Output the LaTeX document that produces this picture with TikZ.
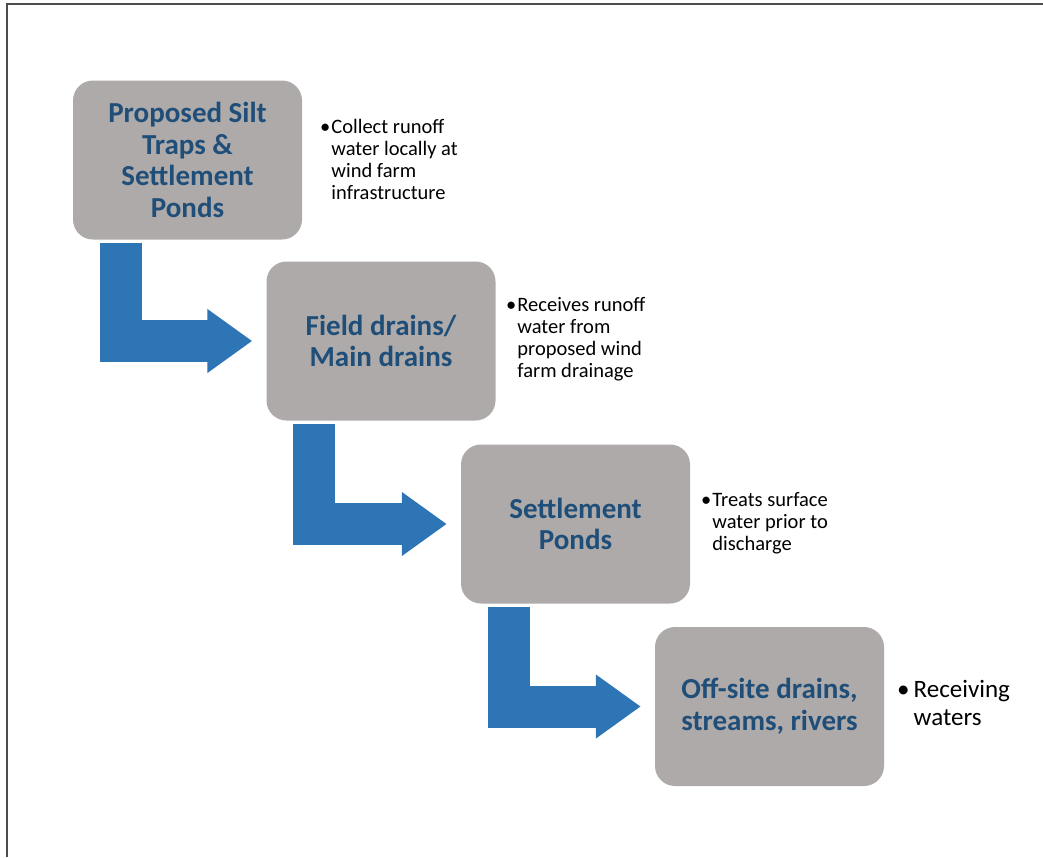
\documentclass[tikz,border=0pt]{standalone}
\usepackage{fontspec}
\setmainfont{Carlito}
\usetikzlibrary{arrows.meta,calc}
\definecolor{boxgray}{RGB}{174,170,170}
\definecolor{flowblue}{RGB}{46,117,182}
\definecolor{titleblue}{RGB}{31,78,121}
\tikzset{
    box/.style={rectangle, rounded corners=20pt, fill=boxgray, minimum width=229pt, minimum height=159pt, align=center, text=titleblue, font=\fontsize{29}{31.5}\selectfont\bfseries},
    note/.style={anchor=north west, inner sep=0pt, font=\fontsize{20.5}{22}\selectfont},
    flow/.style={draw=flowblue, line width=42pt, -{Triangle[width=61pt,length=45pt]}},
}
\begin{document}
\begin{tikzpicture}[x=1pt, y=-1pt]
    \useasboundingbox (0,0) rectangle (1043,857);
    \draw[gray!60!black, line width=1.5pt] (7,857) -- (7,4) -- (1043,4);
    \node[box] (traps) at (187.5,160) {Proposed Silt\\Traps \&\\Settlement\\Ponds};
    \node[box] (drains) at (381,341) {Field drains/\\Main drains};
    \node[box] (ponds) at (575.5,524) {Settlement\\Ponds};
    \node[box] (offsite) at (769.5,706.5) {Off-site drains,\\streams, rivers};
    \node[note] (traps-note) at (320,118) {\begin{tabular}{@{}l@{\hspace{1pt}}l@{}}•&Collect runoff\\&water locally at\\&wind farm\\&infrastructure\end{tabular}};
    \node[note] (drains-note) at (506,296) {\begin{tabular}{@{}l@{\hspace{1pt}}l@{}}•&Receives runoff\\&water from\\&proposed wind\\&farm drainage\end{tabular}};
    \node[note] (ponds-note) at (701,491) {\begin{tabular}{@{}l@{\hspace{1pt}}l@{}}•&Treats surface\\&water prior to\\&discharge\end{tabular}};
    \node[note, font=\fontsize{25}{28}\selectfont] (offsite-note) at (897,678) {\begin{tabular}{@{}l@{\hspace{4pt}}l@{}}•&Receiving\\&waters\end{tabular}};
    \draw[flow] ($(traps.south west)+(48pt,-3pt)$) |- ([xshift=-14pt]drains.west);
    \draw[flow] ($(drains.south west)+(48pt,-3pt)$) |- ([xshift=-14pt]ponds.west);
    \draw[flow] ($(ponds.south west)+(48pt,-3pt)$) |- ([xshift=-14pt]offsite.west);
\end{tikzpicture}
\end{document}
